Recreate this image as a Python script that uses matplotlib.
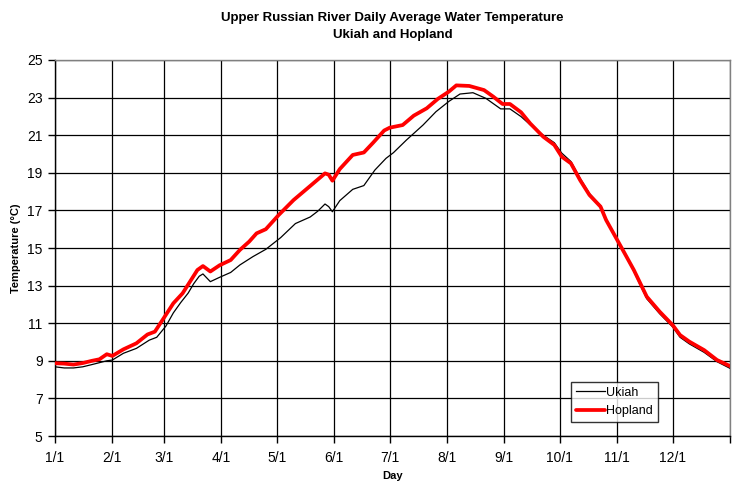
import matplotlib
matplotlib.use("Agg")
import matplotlib.pyplot as plt

plt.rcParams['font.family'] = ['Liberation Sans', 'DejaVu Sans']

# Day of year (0 = Jan 1) and temperatures
ukiah_days = [0, 5, 10, 15, 20, 24, 28, 31, 37, 44, 51, 55, 60, 64, 68, 72, 75, 78, 80,
              84, 89, 95, 100, 107, 114, 122, 130, 138, 142, 146, 148, 150, 154, 161, 167,
              173, 179, 183, 190, 199, 206, 213, 219, 226, 233, 241, 246, 252, 257, 264, 270,
              274, 279, 284, 289, 295, 298, 307, 313, 320, 327, 334, 338, 343, 351, 358, 365]
ukiah_temp = [8.68, 8.62, 8.62, 8.68, 8.80, 8.90, 9.00, 9.04, 9.40, 9.66, 10.10, 10.25, 10.85,
              11.55, 12.10, 12.60, 13.10, 13.50, 13.62, 13.21, 13.44, 13.70, 14.10, 14.54,
              14.93, 15.55, 16.30, 16.65, 16.95, 17.34, 17.20, 16.93, 17.52, 18.12, 18.32,
              19.15, 19.77, 20.07, 20.74, 21.54, 22.25, 22.80, 23.19, 23.26, 22.96, 22.40,
              22.40, 21.99, 21.55, 21.00, 20.60, 20.05, 19.60, 18.70, 17.90, 17.25, 16.55,
              14.90, 13.75, 12.30, 11.50, 10.80, 10.25, 9.90, 9.45, 8.95, 8.60]

hopland_days = [0, 5, 10, 15, 20, 24, 28, 31, 37, 44, 50, 54, 59, 64, 69, 73, 77, 80, 84,
                89, 95, 100, 105, 109, 114, 121, 129, 138, 146, 148, 150, 154, 161, 167, 172,
                178, 181, 188, 194, 201, 207, 213, 217, 224, 232, 237, 242, 246, 252, 257, 264,
                270, 274, 279, 284, 289, 295, 298, 307, 313, 320, 327, 334, 338, 343, 351, 358,
                365]
hopland_temp = [8.87, 8.85, 8.80, 8.88, 9.00, 9.08, 9.35, 9.26, 9.61, 9.93, 10.40, 10.55,
                11.30, 12.06, 12.59, 13.21, 13.83, 14.04, 13.75, 14.08, 14.36, 14.90, 15.34,
                15.78, 16.00, 16.76, 17.55, 18.30, 18.97, 18.90, 18.58, 19.20, 19.95, 20.08,
                20.60, 21.25, 21.40, 21.54, 22.04, 22.43, 22.93, 23.32, 23.65, 23.62, 23.40,
                23.05, 22.66, 22.66, 22.22, 21.62, 20.92, 20.48, 19.86, 19.50, 18.60, 17.82,
                17.20, 16.49, 14.90, 13.83, 12.41, 11.61, 10.90, 10.37, 10.02, 9.57, 9.04, 8.72]

month_ticks = [0, 31, 59, 90, 120, 151, 181, 212, 243, 273, 304, 334]
month_labels = ['1/1', '2/1', '3/1', '4/1', '5/1', '6/1', '7/1', '8/1', '9/1', '10/1', '11/1', '12/1']
y_ticks = [5, 7, 9, 11, 13, 15, 17, 19, 21, 23, 25]

fig = plt.figure(figsize=(7.35, 4.9), dpi=100)
ax = fig.add_axes([55/735, 1 - 436/490, 675/735, 376/490])

ax.plot(ukiah_days, ukiah_temp, color='black', lw=0.9, label='Ukiah', zorder=3)
ax.plot(hopland_days, hopland_temp, color='#ff0000', lw=2.7, label='Hopland', zorder=4,
        solid_joinstyle='round', solid_capstyle='round')

ax.set_xlim(0, 365)
ax.set_ylim(5, 25)
ax.set_xticks(month_ticks + [365])
ax.set_xticklabels(month_labels + [''])
ax.set_yticks(y_ticks)
ax.grid(True, color='black', lw=0.9)
ax.set_axisbelow(True)

for side in ['top', 'right']:
    ax.spines[side].set_color('#808080')
    ax.spines[side].set_linewidth(1.0)
for side in ['left', 'bottom']:
    ax.spines[side].set_color('black')
    ax.spines[side].set_linewidth(1.0)

ax.tick_params(axis='both', direction='out', length=5, width=1, labelsize=10, pad=4,
               colors='black')
ax.tick_params(axis='x', pad=6)

ax.set_xlabel('Day', fontsize=8, fontweight='bold', labelpad=4)
ax.set_ylabel('Temperature (°C)', fontsize=8, fontweight='bold', labelpad=4)

ax.set_title('Upper Russian River Daily Average Water Temperature\nUkiah and Hopland',
             fontsize=9.5, fontweight='bold', pad=16, linespacing=1.5)

leg = ax.legend(loc='lower left', bbox_to_anchor=(516/675, 14/376), fontsize=9,
                frameon=True, fancybox=False, edgecolor='black', handlelength=2.3,
                handletextpad=0.1, borderpad=0.4, labelspacing=0.5, borderaxespad=0)
leg.get_frame().set_linewidth(1.0)

fig.savefig('out.png', dpi=100)
